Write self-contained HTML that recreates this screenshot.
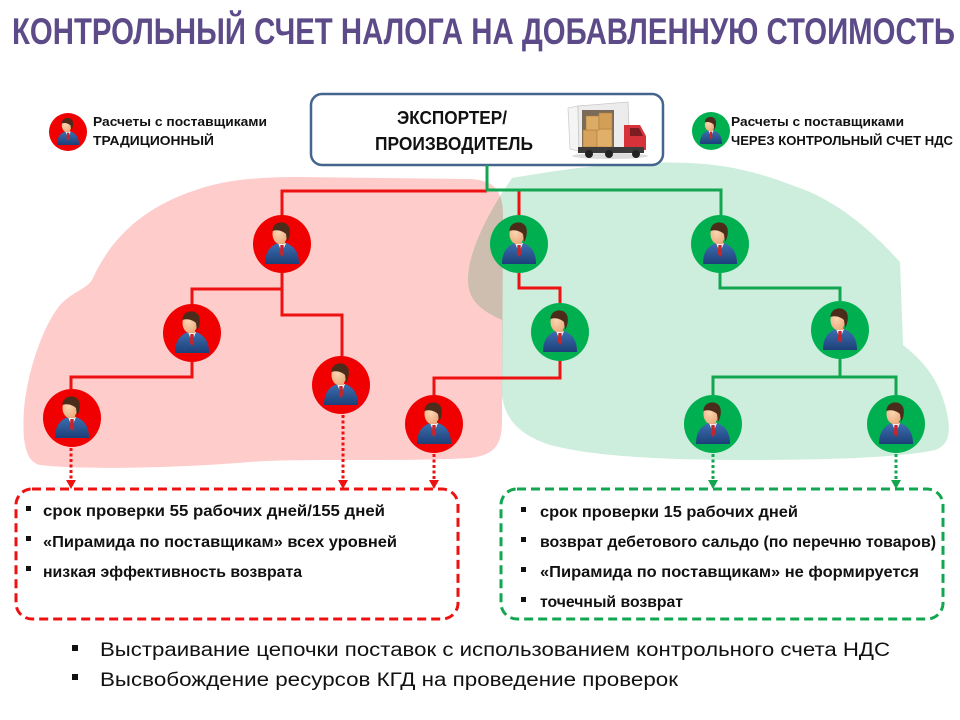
<!DOCTYPE html>
<html>
<head>
<meta charset="utf-8">
<style>
  html,body{margin:0;padding:0;background:#fff;}
  svg{display:block;}
  text{font-family:"Liberation Sans","Noto Sans CJK SC",sans-serif;}
</style>
</head>
<body>
<svg width="960" height="720" viewBox="0 0 960 720" xmlns="http://www.w3.org/2000/svg">
  <defs>
    <linearGradient id="suit" x1="0" y1="0" x2="0" y2="1">
      <stop offset="0" stop-color="#3d6fb0"/>
      <stop offset="1" stop-color="#1c3f78"/>
    </linearGradient>
    <radialGradient id="skin" cx="0.4" cy="0.4" r="0.7">
      <stop offset="0" stop-color="#fcd7b4"/>
      <stop offset="1" stop-color="#e9a878"/>
    </radialGradient>
    <g id="man">
      <path d="M-17,20 C-17,8 -12,2 -4,-1 L4,-1 C12,2 17,8 17,20 Z" fill="url(#suit)"/>
      <path d="M-4,-1 L0,9 L4,-1 Z" fill="#f2f2f2"/>
      <path d="M-1.6,1 L1.6,1 L2.2,10 L0,13 L-2.2,10 Z" fill="#c3262e"/>
      <rect x="-4" y="-6" width="7" height="6" fill="#e9a878"/>
      <ellipse cx="-2" cy="-10" rx="7.5" ry="10" fill="url(#skin)"/>
      <path d="M-9.5,-13 C-10,-22 3,-25 7,-17 C9,-12 7,-5 5,-2 L4,-10 C1,-13 -5,-15 -9.5,-13 Z" fill="#4b2c1a"/>
    </g>
  </defs>

  <!-- Title -->
  <text x="12" y="44" font-size="37" font-weight="bold" fill="#5c4b88" textLength="943" lengthAdjust="spacingAndGlyphs">КОНТРОЛЬНЫЙ СЧЕТ НАЛОГА НА ДОБАВЛЕННУЮ СТОИМОСТЬ</text>

  <!-- Blobs -->
  <path d="M92,280 C110,240 140,210 190,192 C215,183 240,177 300,177 L470,179 C495,180 503,192 503,215 L502,420 C502,445 495,455 470,458 C400,462 300,458 250,462 C180,468 80,470 40,465 C25,462 22,440 24,410 C26,380 40,330 60,305 C75,290 85,290 92,280 Z" fill="#ffcccc"/>
  <path d="M512,178 C560,170 620,160 690,163 C730,165 760,172 810,192 C850,210 880,240 900,262 L903,345 C915,355 935,370 945,405 C952,430 950,445 935,450 C900,458 820,460 750,460 C680,460 600,458 550,445 C520,435 505,420 502,395 L502,320 C480,310 468,300 468,280 C468,250 490,210 512,178 Z" fill="#cdeedc" style="mix-blend-mode:multiply"/>

  <!-- Legend left -->
  <circle cx="68" cy="132" r="19" fill="#f00000"/>
  <use href="#man" transform="translate(68,132) scale(0.65)"/>
  <text x="93" y="126" font-size="12.5" font-weight="bold" fill="#111" textLength="174" lengthAdjust="spacingAndGlyphs">Расчеты с поставщиками</text>
  <text x="93" y="145" font-size="12.5" font-weight="bold" fill="#111" textLength="121" lengthAdjust="spacingAndGlyphs">ТРАДИЦИОННЫЙ</text>

  <!-- Legend right -->
  <circle cx="711" cy="131" r="19" fill="#00b050"/>
  <use href="#man" transform="translate(711,131) scale(0.65)"/>
  <text x="731" y="126" font-size="12.5" font-weight="bold" fill="#111" textLength="173" lengthAdjust="spacingAndGlyphs">Расчеты с поставщиками</text>
  <text x="731" y="145" font-size="12.5" font-weight="bold" fill="#111" textLength="222" lengthAdjust="spacingAndGlyphs">ЧЕРЕЗ КОНТРОЛЬНЫЙ СЧЕТ НДС</text>

  <!-- Main box -->
  <rect x="311" y="94" width="352" height="71" rx="11" ry="11" fill="#fff" stroke="#44658d" stroke-width="2.5"/>
  <text x="397" y="124" font-size="18" font-weight="bold" fill="#111" textLength="110" lengthAdjust="spacingAndGlyphs">ЭКСПОРТЕР/</text>
  <text x="375" y="150" font-size="18" font-weight="bold" fill="#111" textLength="158" lengthAdjust="spacingAndGlyphs">ПРОИЗВОДИТЕЛЬ</text>

  <!-- Truck -->
  <ellipse cx="610" cy="156" rx="38" ry="3" fill="#dcdcdc"/>
  <polygon points="568,108 578,106 579,151 570,149" fill="#f4f4f4" stroke="#cfcfcf" stroke-width="0.8"/>
  <polygon points="578,106 628,102 630,150 579,152" fill="#ececec" stroke="#c8c8c8" stroke-width="0.8"/>
  <rect x="582" y="110" width="32" height="38" fill="#7a6a58"/>
  <rect x="583" y="130" width="14" height="17" fill="#d7a35c" stroke="#b07d3c" stroke-width="0.6"/>
  <rect x="597" y="129" width="15" height="18" fill="#e0b06a" stroke="#b07d3c" stroke-width="0.6"/>
  <rect x="586" y="116" width="13" height="14" fill="#dcab66" stroke="#b07d3c" stroke-width="0.6"/>
  <rect x="599" y="113" width="13" height="16" fill="#d39f58" stroke="#b07d3c" stroke-width="0.6"/>
  <path d="M624,125 L640,125 L646,136 L646,150 L624,150 Z" fill="#d5323a"/>
  <path d="M630,128 L639,128 L643,136 L630,136 Z" fill="#7d1d22"/>
  <rect x="578" y="147" width="66" height="6" fill="#3b3b3b"/>
  <circle cx="589" cy="154" r="4" fill="#222"/>
  <circle cx="609" cy="154" r="4" fill="#222"/>
  <circle cx="636" cy="154" r="4" fill="#222"/>

  <!-- Red connectors -->
  <g fill="none" stroke="#ee1111" stroke-width="3">
    <path d="M487,191 H282 V215"/>
    <path d="M519,191 V215"/>
    <path d="M282,273 V289 H192 V304"/>
    <path d="M282,289 V315 H342 V356"/>
    <path d="M192,362 V377 H71 V389"/>
    <path d="M519,273 V288 H560 V303"/>
    <path d="M560,361 V378 H434 V395"/>
  </g>
  <!-- Green connectors -->
  <g fill="none" stroke="#12a650" stroke-width="3">
    <path d="M487,165 V190 H721 V215"/>
    <path d="M720,273 V288 H840 V301"/>
    <path d="M840,359 V377 H713 V395"/>
    <path d="M840,377 H896 V395"/>
  </g>

  <!-- Nodes red -->
  <g>
    <circle cx="282" cy="244" r="29" fill="#f00000"/><use href="#man" transform="translate(282,244)"/>
    <circle cx="192" cy="333" r="29" fill="#f00000"/><use href="#man" transform="translate(192,333)"/>
    <circle cx="341" cy="385" r="29" fill="#f00000"/><use href="#man" transform="translate(341,385)"/>
    <circle cx="72" cy="418" r="29" fill="#f00000"/><use href="#man" transform="translate(72,418)"/>
    <circle cx="434" cy="424" r="29" fill="#f00000"/><use href="#man" transform="translate(434,424)"/>
  </g>
  <!-- Nodes green -->
  <g>
    <circle cx="519" cy="244" r="29" fill="#00b050"/><use href="#man" transform="translate(519,244)"/>
    <circle cx="560" cy="332" r="29" fill="#00b050"/><use href="#man" transform="translate(560,332)"/>
    <circle cx="720" cy="244" r="29" fill="#00b050"/><use href="#man" transform="translate(720,244)"/>
    <circle cx="840" cy="330" r="29" fill="#00b050"/><use href="#man" transform="translate(840,330)"/>
    <circle cx="713" cy="424" r="29" fill="#00b050"/><use href="#man" transform="translate(713,424)"/>
    <circle cx="896" cy="424" r="29" fill="#00b050"/><use href="#man" transform="translate(896,424)"/>
  </g>

  <!-- Dotted arrows -->
  <g fill="none" stroke="#ee1111" stroke-width="3" stroke-dasharray="3 2.5">
    <path d="M71,448 V482"/>
    <path d="M343,415 V482"/>
    <path d="M434,454 V482"/>
  </g>
  <g fill="#ee1111">
    <polygon points="66,480 76,480 71,489"/>
    <polygon points="338,480 348,480 343,489"/>
    <polygon points="429,480 439,480 434,489"/>
  </g>
  <g fill="none" stroke="#12a650" stroke-width="3" stroke-dasharray="3 2.5">
    <path d="M713,454 V482"/>
    <path d="M896,454 V482"/>
  </g>
  <g fill="#12a650">
    <polygon points="708,480 718,480 713,489"/>
    <polygon points="891,480 901,480 896,489"/>
  </g>

  <!-- Red dashed box -->
  <rect x="16" y="489" width="442" height="130" rx="16" ry="16" fill="#fff" stroke="#ee1111" stroke-width="3" stroke-dasharray="9 5"/>
  <g fill="#111">
    <rect x="26" y="506" width="5" height="5"/>
    <rect x="26" y="536" width="5" height="5"/>
    <rect x="26" y="566" width="5" height="5"/>
  </g>
  <g font-size="16" font-weight="bold" fill="#111">
    <text x="43" y="516" textLength="342" lengthAdjust="spacingAndGlyphs">срок проверки 55 рабочих дней/155 дней</text>
    <text x="43" y="547" textLength="354" lengthAdjust="spacingAndGlyphs">«Пирамида по поставщикам» всех уровней</text>
    <text x="43" y="577" textLength="259" lengthAdjust="spacingAndGlyphs">низкая эффективность возврата</text>
  </g>

  <!-- Green dashed box -->
  <rect x="501" y="489" width="442" height="130" rx="16" ry="16" fill="#fff" stroke="#12a650" stroke-width="3" stroke-dasharray="9 5"/>
  <g fill="#111">
    <rect x="521" y="507" width="5" height="5"/>
    <rect x="521" y="537" width="5" height="5"/>
    <rect x="521" y="567" width="5" height="5"/>
    <rect x="521" y="597" width="5" height="5"/>
  </g>
  <g font-size="16" font-weight="bold" fill="#111">
    <text x="540" y="517" textLength="258" lengthAdjust="spacingAndGlyphs">срок проверки 15 рабочих дней</text>
    <text x="540" y="547" textLength="396" lengthAdjust="spacingAndGlyphs">возврат дебетового сальдо (по перечню товаров)</text>
    <text x="540" y="577" textLength="379" lengthAdjust="spacingAndGlyphs">«Пирамида по поставщикам» не формируется</text>
    <text x="540" y="607" textLength="143" lengthAdjust="spacingAndGlyphs">точечный возврат</text>
  </g>

  <!-- Bottom bullets -->
  <g fill="#111">
    <rect x="72" y="645" width="6" height="6"/>
    <rect x="72" y="674" width="6" height="6"/>
  </g>
  <g font-size="19" fill="#111">
    <text x="100" y="656" textLength="790" lengthAdjust="spacingAndGlyphs">Выстраивание цепочки поставок  с использованием  контрольного счета НДС</text>
    <text x="100" y="686" textLength="578" lengthAdjust="spacingAndGlyphs">Высвобождение ресурсов КГД на  проведение проверок</text>
  </g>
</svg>
</body>
</html>
